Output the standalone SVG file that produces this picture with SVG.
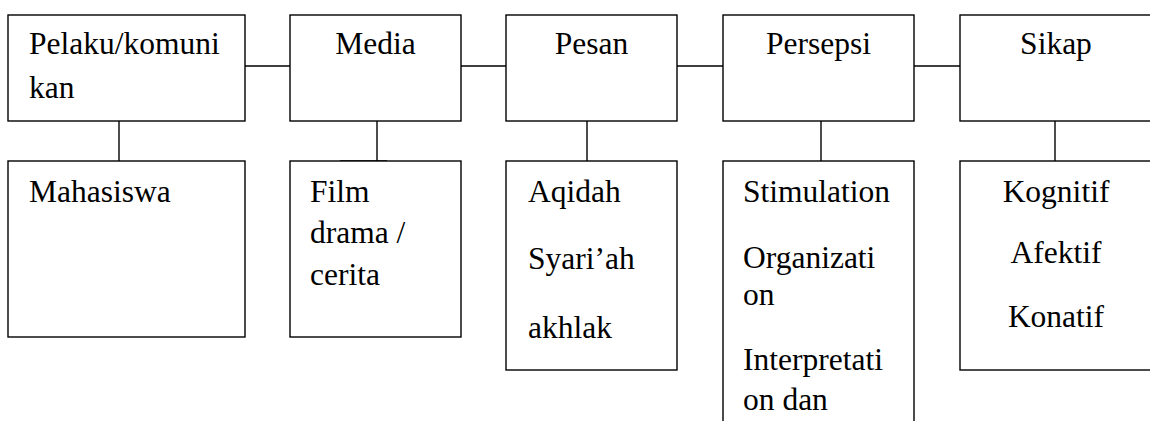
<svg xmlns="http://www.w3.org/2000/svg" width="1150" height="421" viewBox="0 0 1150 421" font-family="'Liberation Serif', 'Times New Roman', Times, serif" font-size="31.5">
<style>
.box{fill:#fff;stroke:#000;stroke-width:1.4}
.ln{stroke:#000;stroke-width:1.4;fill:none}
text{font-family:'Liberation Serif','Times New Roman',Times,serif;font-size:31.5px;fill:#000}
.c{text-anchor:middle}
</style>
<rect width="1150" height="421" fill="#fff"/>
<g id="connectors">
<line class="ln" x1="245" y1="66" x2="290" y2="66"/>
<line class="ln" x1="461" y1="66" x2="506" y2="66"/>
<line class="ln" x1="677" y1="66" x2="723" y2="66"/>
<line class="ln" x1="914" y1="66" x2="960" y2="66"/>
<line class="ln" x1="119" y1="121" x2="119" y2="161"/>
<line class="ln" x1="377" y1="121" x2="377" y2="161"/>
<line x1="340" y1="161.5" x2="387" y2="161.5" stroke="#000" stroke-width="2.4"/>
<line class="ln" x1="587" y1="121" x2="587" y2="161"/>
<line class="ln" x1="821" y1="121" x2="821" y2="161"/>
<line class="ln" x1="1055" y1="121" x2="1055" y2="161"/>
</g>
<g id="n-pelaku"><rect class="box" x="8" y="15" width="237" height="106"/><text x="29" y="54">Pelaku/komuni</text><text x="29" y="98">kan</text></g>
<g id="n-media"><rect class="box" x="290" y="15" width="171" height="106"/><text class="c" x="375.5" y="54">Media</text></g>
<g id="n-pesan"><rect class="box" x="506" y="15" width="171" height="106"/><text class="c" x="591.5" y="54">Pesan</text></g>
<g id="n-persepsi"><rect class="box" x="723" y="15" width="191" height="106"/><text class="c" x="818.5" y="54">Persepsi</text></g>
<g id="n-sikap"><rect class="box" x="960" y="15" width="200" height="106"/><text class="c" x="1056" y="54">Sikap</text></g>
<g id="n-mahasiswa"><rect class="box" x="8" y="161" width="237" height="176"/><text x="29" y="202">Mahasiswa</text></g>
<g id="n-film"><rect class="box" x="290" y="161" width="171" height="176"/><text x="310" y="202">Film</text><text x="310" y="243">drama /</text><text x="310" y="285">cerita</text></g>
<g id="n-aqidah"><rect class="box" x="506" y="161" width="171" height="209"/><text x="528" y="202">Aqidah</text><text x="528" y="269">Syari’ah</text><text x="528" y="338">akhlak</text></g>
<g id="n-stimulation"><rect class="box" x="723" y="161" width="191" height="280"/><text x="743" y="202">Stimulation</text><text x="743" y="268">Organizati</text><text x="743" y="305">on</text><text x="743" y="370">Interpretati</text><text x="743" y="410">on dan</text></g>
<g id="n-kognitif"><rect class="box" x="960" y="161" width="200" height="209"/><text class="c" x="1056" y="202">Kognitif</text><text class="c" x="1056" y="263">Afektif</text><text class="c" x="1056" y="327">Konatif</text></g>
</svg>
